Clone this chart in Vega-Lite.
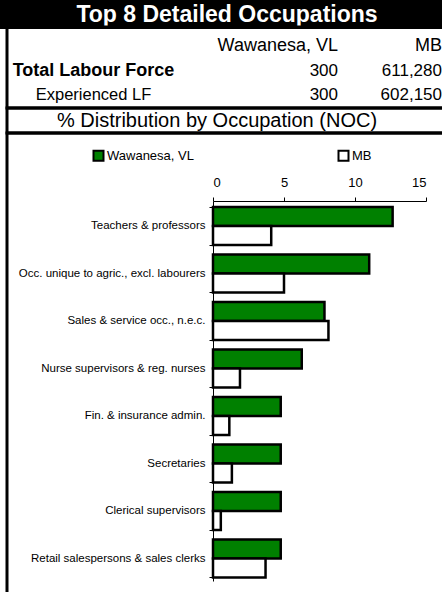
{
  "$schema": "https://vega.github.io/schema/vega-lite/v6.json",
  "padding": {"left": 0, "top": -4, "right": 0, "bottom": 0},
  "background": "white",
  "config": {"font": "Liberation Sans", "view": {"stroke": null}},
  "bounds": "flush",
  "spacing": 5,
  "vconcat": [
    {
      "width": 440,
      "height": 15,
      "view": {"fill": "black", "stroke": "black", "strokeWidth": 14},
      "data": {"values": [{"title": "Top 8 Detailed Occupations"}]},
      "mark": {"type": "text", "color": "white", "fontWeight": "bold", "fontSize": 23, "baseline": "middle", "align": "center"},
      "encoding": {"text": {"field": "title"}}
    },
    {
      "bounds": "flush",
      "spacing": 0,
      "vconcat": [
        {
          "width": 440,
          "height": 81,
          "view": {"stroke": "black", "strokeWidth": 3},
          "data": {"values": [
            {"item": "Total Labour Force", "Wawanesa, VL": 300, "MB": 611280},
            {"item": "Experienced LF", "Wawanesa, VL": 300, "MB": 602150}
          ]},
          "transform": [{"fold": ["Wawanesa, VL", "MB"], "as": ["geo", "count"]}],
          "encoding": {
            "x": {"field": "geo", "type": "nominal", "sort": ["Wawanesa, VL", "MB"], "bandPosition": 1,
              "scale": {"type": "band", "range": [227, 435], "paddingInner": 0, "paddingOuter": 0},
              "axis": null},
            "y": {"field": "item", "type": "nominal",
              "scale": {"type": "band", "domain": ["header", "Total Labour Force", "Experienced LF"], "range": [6.75, 80.25], "paddingInner": 0, "paddingOuter": 0},
              "axis": {"orient": "left", "offset": -86, "title": null, "domain": false, "ticks": false, "labelPadding": 0, "labelAlign": "center", "labelBaseline": "middle", "labelColor": "black", "labelLimit": 300,
                "labelExpr": "datum.value === 'header' ? '' : datum.value",
                "labelFontSize": {"condition": {"test": "datum.value === 'Total Labour Force'", "value": 18}, "value": 16.5},
                "labelFontWeight": {"condition": {"test": "datum.value === 'Total Labour Force'", "value": "bold"}, "value": "normal"}}}
          },
          "layer": [
            {
              "mark": {"type": "text", "align": "right", "baseline": "middle", "fontSize": 17, "color": "black"},
              "encoding": {"text": {"field": "count", "type": "quantitative", "format": ","}}
            },
            {
              "transform": [{"filter": "datum.item === 'Total Labour Force'"}],
              "mark": {"type": "text", "align": "right", "baseline": "middle", "fontSize": 18, "color": "black"},
              "encoding": {"y": {"datum": "header"}, "text": {"field": "geo", "type": "nominal"}}
            }
          ]
        },
        {
          "width": 440,
          "height": 25,
          "view": {"stroke": "black", "strokeWidth": 3},
          "data": {"values": [{"label": "% Distribution by Occupation (NOC)"}]},
          "mark": {"type": "text", "fontSize": 20, "baseline": "middle", "align": "center", "dx": -10, "color": "black"},
          "encoding": {"text": {"field": "label"}}
        },
        {
          "width": 440,
          "height": 462,
          "view": {"stroke": "black", "strokeWidth": 3},
          "data": {"values": [
            {"occupation": "Teachers & professors", "series": "Wawanesa, VL", "pct": 12.65},
            {"occupation": "Teachers & professors", "series": "MB", "pct": 4.1},
            {"occupation": "Occ. unique to agric., excl. labourers", "series": "Wawanesa, VL", "pct": 11.0},
            {"occupation": "Occ. unique to agric., excl. labourers", "series": "MB", "pct": 5.0},
            {"occupation": "Sales & service occ., n.e.c.", "series": "Wawanesa, VL", "pct": 7.85},
            {"occupation": "Sales & service occ., n.e.c.", "series": "MB", "pct": 8.13},
            {"occupation": "Nurse supervisors & reg. nurses", "series": "Wawanesa, VL", "pct": 6.25},
            {"occupation": "Nurse supervisors & reg. nurses", "series": "MB", "pct": 1.9},
            {"occupation": "Fin. & insurance admin.", "series": "Wawanesa, VL", "pct": 4.77},
            {"occupation": "Fin. & insurance admin.", "series": "MB", "pct": 1.15},
            {"occupation": "Secretaries", "series": "Wawanesa, VL", "pct": 4.77},
            {"occupation": "Secretaries", "series": "MB", "pct": 1.33},
            {"occupation": "Clerical supervisors", "series": "Wawanesa, VL", "pct": 4.77},
            {"occupation": "Clerical supervisors", "series": "MB", "pct": 0.55},
            {"occupation": "Retail salespersons & sales clerks", "series": "Wawanesa, VL", "pct": 4.77},
            {"occupation": "Retail salespersons & sales clerks", "series": "MB", "pct": 3.7}
          ]},
          "mark": {"type": "bar", "stroke": "black", "strokeWidth": 2.5},
          "encoding": {
            "y": {"field": "occupation", "type": "nominal",
              "sort": ["Teachers & professors", "Occ. unique to agric., excl. labourers", "Sales & service occ., n.e.c.", "Nurse supervisors & reg. nurses", "Fin. & insurance admin.", "Secretaries", "Clerical supervisors", "Retail salespersons & sales clerks"],
              "scale": {"range": [68, 448], "paddingInner": 0.2, "paddingOuter": 0.1, "align": 0.63},
              "axis": {"orient": "left", "offset": -206, "title": null, "labelFontSize": 11.5, "labelLimit": 300, "tickSize": 4, "labelPadding": 4, "tickBand": "extent", "domainColor": "black", "tickColor": "black", "labelColor": "black"}},
            "yOffset": {"field": "series", "type": "nominal", "sort": ["Wawanesa, VL", "MB"]},
            "x": {"field": "pct", "type": "quantitative",
              "scale": {"domain": [0, 15], "range": [206, 419], "nice": false},
              "axis": {"orient": "top", "offset": -68, "values": [0, 5, 10, 15], "title": null, "grid": false, "tickSize": 4, "labelPadding": 8, "labelFontSize": 13, "domainColor": "black", "tickColor": "black", "labelColor": "black"}},
            "fill": {"field": "series", "type": "nominal",
              "scale": {"domain": ["Wawanesa, VL", "MB"], "range": ["#008000", "#ffffff"]},
              "legend": {"title": null, "orient": "none", "legendX": 85, "legendY": 142, "direction": "horizontal", "symbolType": "square", "symbolSize": 100, "symbolStrokeColor": "black", "symbolStrokeWidth": 2, "labelFontSize": 13, "labelOffset": 2, "columnPadding": 140, "padding": 0, "labelColor": "black"}}
          }
        }
      ]
    }
  ]
}
